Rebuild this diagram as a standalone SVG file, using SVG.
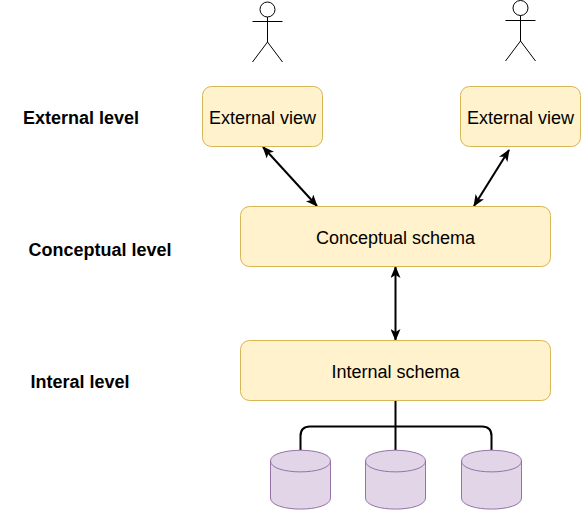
<svg xmlns="http://www.w3.org/2000/svg" width="581" height="511" viewBox="0 0 581 511">
<style>
.box{fill:#fff2cc;stroke:#d6b656;stroke-width:1}
.db{fill:#e1d5e7;stroke:#9673a6;stroke-width:1}
.top{fill:none;stroke:#9673a6;stroke-width:1}
.actor{fill:none;stroke:#000;stroke-width:1}
.edge{fill:none;stroke:#000;stroke-width:2}
.t{font-family:"Liberation Sans",Arial,sans-serif;font-size:18px;fill:#000;text-anchor:middle}
.b{font-family:"Liberation Sans",Arial,sans-serif;font-size:18px;font-weight:bold;fill:#000;text-anchor:middle}
</style>
<defs>
<marker id="a" viewBox="0 0 12 10" refX="11" refY="5" markerUnits="userSpaceOnUse" markerWidth="12" markerHeight="10" orient="auto-start-reverse"><path d="M0 0L12 5L0 10L3 5Z" fill="#000"/></marker>
</defs>
<g id="actor1" class="actor"><circle cx="267.500" cy="9.500" r="7.500"/><path d="M267.500 17V42M252.500 21.500H282.500M267.500 42L252.500 62M267.500 42L282.500 62"/></g>
<g id="actor2" class="actor"><circle cx="520.500" cy="8" r="7.500"/><path d="M520.500 15.500V41M505.500 20.500H535.500M520.500 41L505.500 61M520.500 41L535.500 61"/></g>
<g id="connectors">
<path class="edge" d="M263 147L317 206" marker-start="url(#a)" marker-end="url(#a)"/>
<path class="edge" d="M509 150L474 206" marker-start="url(#a)" marker-end="url(#a)"/>
<path class="edge" d="M395.500 267V340" marker-start="url(#a)" marker-end="url(#a)"/>
<path class="edge" d="M395.500 400V450"/>
<path class="edge" d="M300.500 450V436Q300.500 426.500 310 426.500H482Q491.500 426.500 491.500 436V450"/>
</g>
<g id="ext1"><rect class="box" x="202.500" y="86.500" width="120" height="60" rx="9"/><text class="t" x="262.500" y="124">External view</text></g>
<g id="ext2"><rect class="box" x="460.500" y="86.500" width="120" height="60" rx="9"/><text class="t" x="520.500" y="124">External view</text></g>
<g id="conceptual"><rect class="box" x="240.500" y="206.500" width="310" height="60" rx="9"/><text class="t" x="395.500" y="244">Conceptual schema</text></g>
<g id="internal"><rect class="box" x="240.500" y="340.500" width="310" height="60" rx="9"/><text class="t" x="395.500" y="378">Internal schema</text></g>
<g id="db1"><path class="db" d="M270.500 461C270.500 446.700 330.500 446.700 330.500 461V498C330.500 512.800 270.500 512.800 270.500 498Z"/><path class="top" d="M270.500 461C270.500 475.500 330.500 475.500 330.500 461"/></g>
<g id="db2"><path class="db" d="M365.500 461C365.500 446.700 425.500 446.700 425.500 461V498C425.500 512.800 365.500 512.800 365.500 498Z"/><path class="top" d="M365.500 461C365.500 475.500 425.500 475.500 425.500 461"/></g>
<g id="db3"><path class="db" d="M461.500 461C461.500 446.700 521.500 446.700 521.500 461V498C521.500 512.800 461.500 512.800 461.500 498Z"/><path class="top" d="M461.500 461C461.500 475.500 521.500 475.500 521.500 461"/></g>
<g id="labels">
<text class="b" x="81" y="124">External level</text>
<text class="b" x="100" y="256">Conceptual level</text>
<text class="b" x="80" y="388">Interal level</text>
</g>
</svg>
